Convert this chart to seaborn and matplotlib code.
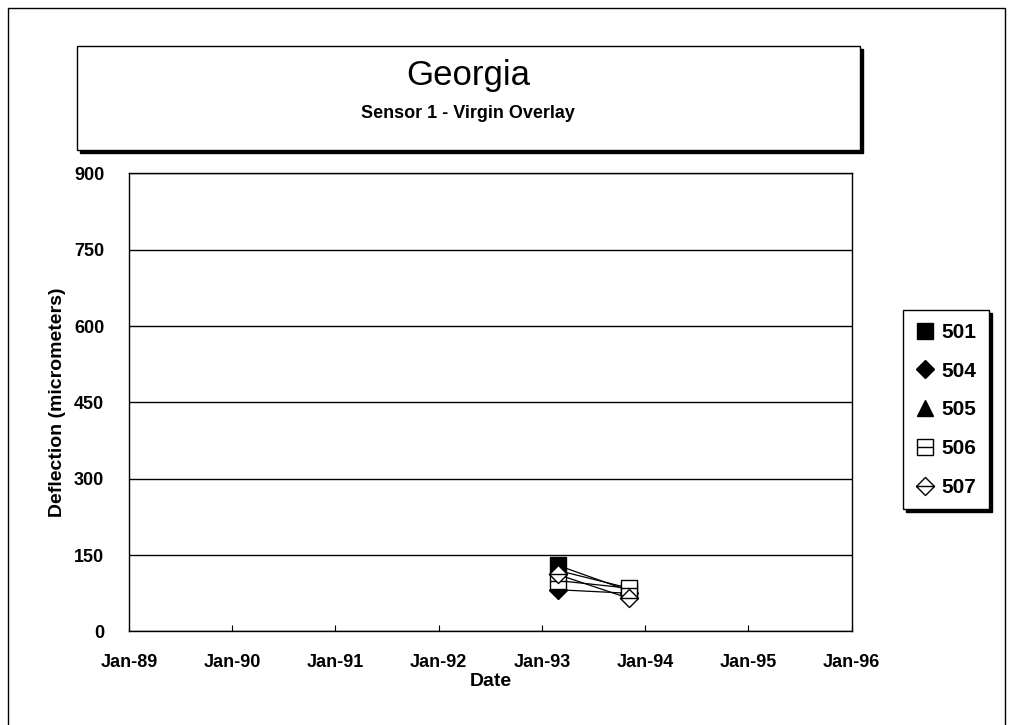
import matplotlib
matplotlib.use("Agg")
import matplotlib.pyplot as plt
import matplotlib.dates as mdates
from matplotlib.path import Path
from matplotlib.patches import Rectangle
from matplotlib.lines import Line2D
import seaborn as sns
import pandas as pd
import numpy as np

# Data
dates = pd.to_datetime(["1993-02-25", "1993-11-05"])
sections = ["501", "504", "505", "506", "507"]
deflection = {
    "501": [130, 80],
    "504": [82, 75],
    "505": [120, 85],
    "506": [100, 85],
    "507": [112, 65],
}

sns.set_theme(style="white")
plt.rcParams["font.family"] = ["Liberation Sans", "DejaVu Sans"]
plt.rcParams["font.weight"] = "bold"
plt.rcParams["text.color"] = "black"
plt.rcParams["axes.labelcolor"] = "black"
plt.rcParams["xtick.color"] = "black"
plt.rcParams["ytick.color"] = "black"

# square with a line through the middle, diamond with a line through the middle
box_line = Path([(-1, -1), (1, -1), (1, 1), (-1, 1), (-1, -1), (-1, 0), (1, 0)],
                [Path.MOVETO, Path.LINETO, Path.LINETO, Path.LINETO, Path.CLOSEPOLY,
                 Path.MOVETO, Path.LINETO])
diamond_line = Path([(0, -1), (1, 0), (0, 1), (-1, 0), (0, -1), (-1, 0), (1, 0)],
                    [Path.MOVETO, Path.LINETO, Path.LINETO, Path.LINETO, Path.CLOSEPOLY,
                     Path.MOVETO, Path.LINETO])

marker_style = {
    "501": dict(marker="s", mfc="black", ms=11),
    "504": dict(marker="D", mfc="black", ms=9),
    "505": dict(marker="^", mfc="black", ms=12),
    "506": dict(marker=box_line, mfc="white", ms=12),
    "507": dict(marker=diamond_line, mfc="white", ms=13),
}

fig = plt.figure(figsize=(10.09, 7.25), dpi=100)
ax = fig.add_axes([0.128, 0.129, 0.716, 0.632])

for s in sections:
    st = marker_style[s]
    sns.lineplot(x=dates, y=deflection[s], ax=ax, color="black", lw=0.9,
                 marker=st["marker"], markersize=st["ms"], markerfacecolor=st["mfc"],
                 markeredgecolor="black", markeredgewidth=1.0, label=s, legend=False)

ax.set_xlim(pd.Timestamp("1989-01-01"), pd.Timestamp("1996-01-01"))
ax.set_ylim(0, 900)
ax.set_yticks(np.arange(0, 901, 150))
ax.xaxis.set_major_locator(mdates.YearLocator())
ax.xaxis.set_major_formatter(mdates.DateFormatter("%b-%y"))
ax.yaxis.grid(True, color="black", lw=1.0)
ax.xaxis.grid(False)
for sp in ax.spines.values():
    sp.set_color("black")
    sp.set_linewidth(1.0)
ax.tick_params(axis="x", labelsize=13, pad=16, bottom=True, direction="in", length=4, width=0.8)
ax.tick_params(axis="y", labelsize=13, pad=12, left=False)
for lab in ax.get_xticklabels() + ax.get_yticklabels():
    lab.set_fontweight("bold")
ax.set_xlabel("Date", fontsize=14, fontweight="bold", labelpad=2)
ax.set_ylabel("Deflection (micrometers)", fontsize=14, fontweight="bold", labelpad=6)

# legend with markers only
handles = [Line2D([], [], ls="none", color="black", marker=marker_style[s]["marker"],
                  markersize=marker_style[s]["ms"], markerfacecolor=marker_style[s]["mfc"],
                  markeredgecolor="black") for s in sections]
leg = fig.legend(handles, sections, loc="upper left", bbox_to_anchor=(0.895, 0.572),
                 bbox_transform=fig.transFigure, frameon=True, fancybox=False,
                 shadow={"facecolor": "black", "edgecolor": "black", "alpha": 1},
                 prop=dict(size=15, weight="bold"), handlelength=0.9, handletextpad=0.35,
                 labelspacing=0.95, borderpad=0.6, borderaxespad=0)
leg.get_frame().set_edgecolor("black")
leg.get_frame().set_linewidth(1.0)

# title box with shadow
W, H = 1009, 725
def fx(px):
    return px / W
def fy(py):
    return 1 - py / H
fig.patches.append(Rectangle((fx(80), fy(153)), fx(860) - fx(77), fy(46) - fy(150),
                             transform=fig.transFigure, facecolor="black", edgecolor="black", zorder=1))
fig.patches.append(Rectangle((fx(77), fy(150)), fx(860) - fx(77), fy(46) - fy(150),
                             transform=fig.transFigure, facecolor="white", edgecolor="black",
                             lw=1.0, zorder=2))
fig.text(fx(468), fy(75), "Georgia", ha="center", va="center", fontsize=25, fontweight="normal", zorder=3)
fig.text(fx(468), fy(114), "Sensor 1 - Virgin Overlay", ha="center", va="center", fontsize=13,
         fontweight="bold", zorder=3)

# outer border
fig.patches.append(Rectangle((fx(8), -0.01), fx(1005) - fx(8), fy(8) + 0.01,
                             transform=fig.transFigure, facecolor="none", edgecolor="black", lw=1.0))

fig.savefig("out.png", dpi=100)
